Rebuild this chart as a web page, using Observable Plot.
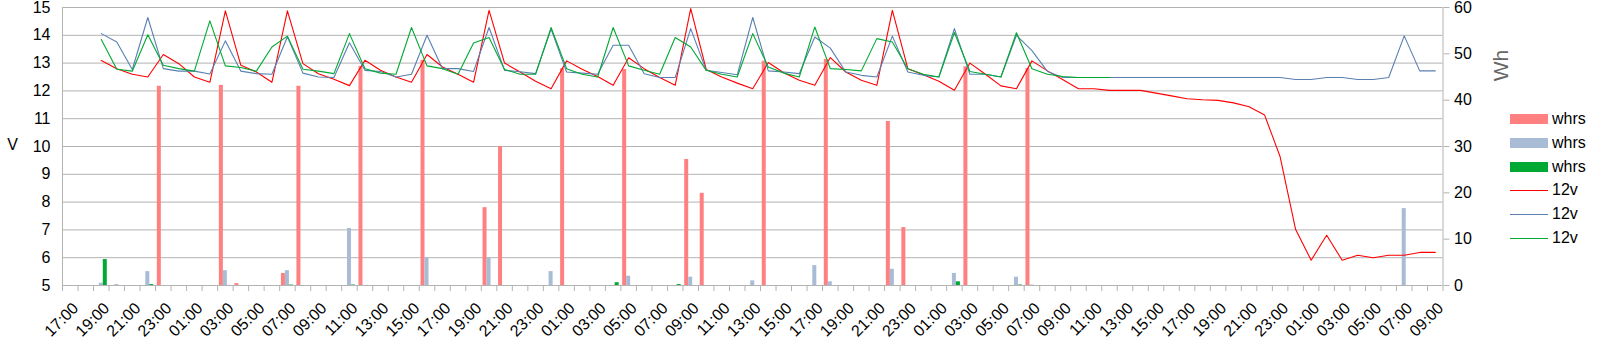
<!DOCTYPE html>
<html><head><meta charset="utf-8">
<script src="https://cdn.jsdelivr.net/npm/d3@7"></script>
<script src="https://cdn.jsdelivr.net/npm/@observablehq/plot@0.6"></script>
<style>
body{margin:0;background:#fff;font-family:"Liberation Sans",Arial,sans-serif;}
#wrap{position:relative;width:1604px;height:356px;overflow:hidden;}
#legend{position:absolute;left:1510px;top:0;width:94px;height:356px;font-size:16px;color:#000;}
.row{position:absolute;left:0;height:20px;line-height:20px;width:94px;}
.sw{position:absolute;left:0;width:38px;}
.lab{position:absolute;left:42px;top:0;white-space:nowrap;}
</style>
</head><body>
<div id="wrap"><div id="chart"></div><div id="legend"></div></div>
<script>
// hourly categories (17:00 day 1 … 09:00 day 5)
const hours = [
 "17:00","18:00","19:00","20:00","21:00","22:00","23:00",
 "00:00","01:00","02:00","03:00","04:00","05:00","06:00","07:00","08:00","09:00","10:00","11:00","12:00","13:00","14:00","15:00","16:00","17:00","18:00","19:00","20:00","21:00","22:00","23:00",
 "00:00","01:00","02:00","03:00","04:00","05:00","06:00","07:00","08:00","09:00","10:00","11:00","12:00","13:00","14:00","15:00","16:00","17:00","18:00","19:00","20:00","21:00","22:00","23:00",
 "00:00","01:00","02:00","03:00","04:00","05:00","06:00","07:00","08:00","09:00","10:00","11:00","12:00","13:00","14:00","15:00","16:00","17:00","18:00","19:00","20:00","21:00","22:00","23:00",
 "00:00","01:00","02:00","03:00","04:00","05:00","06:00","07:00","08:00","09:00"
];

// 12v lines (V, left axis)
const v12Red = [
 null,null,13.09,12.80,12.60,12.50,13.31,12.98,12.50,12.31,
 14.88,12.92,12.68,12.31,14.88,12.98,12.62,12.42,12.19,13.10,
 12.74,12.50,12.31,13.31,12.86,12.60,12.31,14.90,13.00,12.68,
 12.35,12.08,13.08,12.78,12.52,12.20,13.19,12.80,12.48,12.20,
 14.96,12.77,12.50,12.28,12.08,13.02,12.65,12.38,12.20,13.20,
 12.68,12.38,12.20,14.90,12.80,12.58,12.35,12.02,13.00,12.60,
 12.18,12.08,13.08,12.72,12.40,12.08,12.08,12.02,12.02,12.02,
 11.92,11.82,11.72,11.68,11.66,11.57,11.43,11.13,9.63,7.01,
 5.91,6.81,5.91,6.09,6.00,6.09,6.09,6.19,6.19
];
const v12Blue = [
 null,null,14.06,13.76,12.77,14.64,12.80,12.71,12.71,12.61,
 13.80,12.71,12.62,12.60,13.95,12.64,12.50,12.48,13.73,12.74,
 12.70,12.50,12.60,14.00,12.80,12.80,12.70,14.28,12.74,12.69,
 12.62,14.22,12.68,12.64,12.60,13.64,13.64,12.62,12.48,12.48,
 14.24,12.74,12.66,12.58,14.64,12.72,12.68,12.62,13.94,13.54,
 12.68,12.56,12.50,13.97,12.68,12.56,12.50,14.24,12.60,12.60,
 12.50,14.00,13.45,12.70,12.48,12.48,12.48,12.48,12.48,12.48,
 12.48,12.48,12.48,12.48,12.48,12.48,12.48,12.48,12.48,12.41,
 12.41,12.48,12.48,12.41,12.41,12.48,13.98,12.72,12.72
];
const v12Green = [
 null,null,13.85,12.78,12.71,14.02,12.92,12.80,12.71,14.52,
 12.90,12.84,12.71,13.58,13.97,12.78,12.71,12.62,14.06,12.80,
 12.64,12.60,14.28,12.90,12.80,12.60,13.72,13.92,12.77,12.60,
 12.60,14.28,12.80,12.60,12.50,14.28,12.90,12.74,12.60,13.92,
 13.58,12.74,12.60,12.50,14.06,12.86,12.64,12.50,14.30,12.80,
 12.77,12.72,13.88,13.76,12.80,12.60,12.50,14.10,12.70,12.60,
 12.50,14.09,12.80,12.60,12.52,12.48,12.48,12.48,null,null,
 null,null,null,null,null,null,null,null,null,null,
 null,null,null,null,null,null,null,null,null
];

// whrs bars (Wh, right axis)
const whRed = [
 0,0,0,0,0,0,43.0,0,0,0,
 43.2,0.4,0,0,2.6,43.0,0,0,0,47.3,
 0,0,0,48.6,0,0,0,16.8,30.0,0,
 0,0,46.8,0,0,0,46.6,0,0,0,
 27.2,19.9,0,0,0,48.4,0,0,0,48.8,
 0,0,0,35.4,12.5,0,0,0,47.2,0,
 0,0,46.8,0,0,0,0,0,0,0,
 0,0,0,0,0,0,0,0,0,0,
 0,0,0,0,0,0,0,0,0
];
const whBlue = [
 0,0,0.5,0.2,0,3.0,0,0,0,0,
 3.2,0,0,0,3.2,0,0,0,12.3,0,
 0,0,0,6.0,0,0,0,6.0,0,0,
 0,3.0,0,0,0,0,2.0,0,0,0,
 1.8,0,0,0,1.0,0,0,0,4.3,0.8,
 0,0,0,3.5,0,0,0,2.6,0,0,
 0,1.8,0.1,0,0,0,0,0,0,0,
 0,0,0,0,0,0,0,0,0,0,
 0,0,0,0,0,0,16.6,0,0
];
const whGreen = [
 0,0,5.6,0,0,0.2,0,0,0,0,
 0,0,0,0,0.1,0,0,0,0.1,0,
 0,0,0,0,0,0,0,0,0,0,
 0,0,0,0,0,0.6,0,0,0,0.2,
 0,0,0,0,0,0,0,0,0,0,
 0,0,0,0,0,0,0,0.8,0,0,
 0,0.1,0,0,0,0,0,0,0,0,
 0,0,0,0,0,0,0,0,0,0,
 0,0,0,0,0,0,0,0,0
];

const vTicks = [5,6,7,8,9,10,11,12,13,14,15];
const whTicks = [0,10,20,30,40,50,60];

const C = {
  redBar:"#ff8080", blueBar:"#a9bcd5", greenBar:"#00a933",
  redLine:"#ff0000", blueLine:"#5a80b2", greenLine:"#00a933",
  grid:"#b3b3b3"
};

const idx = d3.range(hours.length);
const whToV = wh => 5 + wh / 6;       // Wh 0..60 maps onto V 5..15
const bw = 0.258;                      // bar width in category units
const barMark = (arr, off, fill) => Plot.rect(idx.filter(i => arr[i] > 0), {
  x1: i => i + off, x2: i => i + off + bw, y1: 5, y2: i => whToV(arr[i]), fill
});
const lineMark = (arr, stroke) => Plot.line(idx, {
  x: i => i, y: i => arr[i] == null ? NaN : arr[i], stroke, strokeWidth: 1.1
});
const bounds = d3.range(-0.5, hours.length, 1);
const labelIdx = idx.filter(i => i % 2 === 0);

const chart = Plot.plot({
  width: 1604, height: 356,
  marginLeft: 62, marginRight: 161.5, marginTop: 7, marginBottom: 71,
  style: {fontFamily: '"Liberation Sans", Arial, sans-serif', fontSize: "16px", color: "#000", background: "#fff"},
  x: {domain: [-0.5, hours.length - 0.5], axis: null},
  y: {domain: [5, 15], axis: null},
  marks: [
    Plot.gridY(vTicks, {stroke: C.grid, strokeOpacity: 1}),
    Plot.ruleX([-0.5, hours.length - 0.5], {stroke: C.grid}),
    Plot.axisX(bounds, {tickSize: 6, tickFormat: () => "", stroke: C.grid}),
    Plot.text(labelIdx, {x: i => i, frameAnchor: "bottom", text: i => hours[i], rotate: -45,
      textAnchor: "end", lineAnchor: "middle", dx: 5.5, dy: 20, fontSize: 16, fill: "#000"}),
    Plot.axisY(vTicks, {anchor: "left", tickSize: 0, tickPadding: 12, fontSize: 16, fill: "#000"}),
    Plot.axisY(whTicks.map(whToV), {anchor: "right", tickSize: 6, tickPadding: 5, stroke: C.grid,
      tickFormat: v => String(Math.round((v - 5) * 6)), fontSize: 16, fill: "#000"}),
    Plot.text(["V"], {frameAnchor: "left", dx: -50, dy: -2, text: d => d, textAnchor: "middle",
      lineAnchor: "middle", fontSize: 16, fill: "#000"}),
    Plot.text(["Wh"], {frameAnchor: "top-right", dx: 58, dy: 58, text: d => d, rotate: -90,
      textAnchor: "middle", lineAnchor: "middle", fontSize: 21, fill: "#666"}),
    barMark(whRed, -0.387, C.redBar),
    barMark(whBlue, -0.129, C.blueBar),
    barMark(whGreen, 0.129, C.greenBar),
    lineMark(v12Red, C.redLine),
    lineMark(v12Blue, C.blueLine),
    lineMark(v12Green, C.greenLine)
  ]
});
document.getElementById("chart").appendChild(chart);

// legend
const legendItems = [
  {label: "whrs", color: C.redBar, kind: "bar", cy: 119},
  {label: "whrs", color: C.blueBar, kind: "bar", cy: 143},
  {label: "whrs", color: C.greenBar, kind: "bar", cy: 167},
  {label: "12v", color: C.redLine, kind: "line", cy: 190},
  {label: "12v", color: C.blueLine, kind: "line", cy: 214},
  {label: "12v", color: C.greenLine, kind: "line", cy: 238}
];
const leg = document.getElementById("legend");
for (const it of legendItems) {
  const row = document.createElement("div");
  row.className = "row";
  row.style.top = (it.cy - 10) + "px";
  const sw = document.createElement("div");
  sw.className = "sw";
  sw.style.background = it.color;
  if (it.kind === "bar") { sw.style.top = "5px"; sw.style.height = "10px"; }
  else { sw.style.top = "9.5px"; sw.style.height = "1.2px"; }
  const lab = document.createElement("span");
  lab.className = "lab";
  lab.textContent = it.label;
  row.appendChild(sw); row.appendChild(lab);
  leg.appendChild(row);
}
</script>
</body></html>
